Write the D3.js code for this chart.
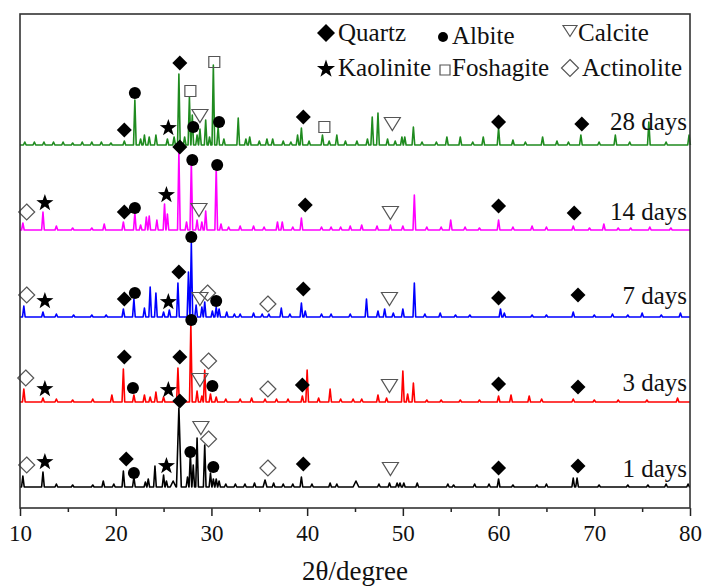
<!DOCTYPE html>
<html lang="en">
<head>
<meta charset="UTF-8">
<script src="https://cdn.jsdelivr.net/npm/d3@7"></script>
<title>XRD patterns</title>
<style>
  body { margin: 0; background: #fff; }
  text { font-family: "Liberation Serif", "Times New Roman", serif; fill: #111; }
</style>
</head>
<body>
<svg id="chart" width="702" height="588"></svg>
<script>
// peaks: [2theta, height above baseline (a.u.), half width]
var peaks1d = [[10.3,11],[12.4,15],[13.8,3],[15.5,2],[17.6,2],[18.7,6],[19.8,3],[20.8,16],[21.9,10],[23.1,5],[23.4,8],[24.1,21],[25.0,12],[25.3,6],[26.0,6,0.3],[26.6,79,0.25],[27.5,10],[27.8,34],[28.1,22],[28.5,49],[29.3,42],[29.9,14],[30.2,8],[30.5,8],[30.8,6],[31.5,3],[32.5,3],[33.5,3],[34.5,4],[35.6,7,0.2],[36.5,4],[37.5,3],[38.5,3],[39.4,10],[40.5,3],[42.4,4],[43.1,3],[45.1,6,0.3],[47.5,3],[48.6,4],[49.4,4],[49.7,4],[50.1,4],[51.5,4],[54.7,3],[55.3,2],[57.5,3],[59.0,3],[60.0,8],[61.5,2],[64.0,2],[65.0,3],[67.8,9],[68.2,9],[70.5,2],[73.5,2],[75.6,2],[77.5,3],[79.8,3]];
var peaks3d = [[10.4,13],[12.4,4],[13.8,3],[15.5,2],[17.6,3],[19.6,7],[20.8,33],[21.9,7],[23.0,7],[23.6,5],[24.2,10],[25.0,5],[26.5,34],[27.85,79],[28.5,11],[29.0,6],[29.3,32],[29.9,8],[30.5,5],[31.5,3],[33.0,3],[34.2,4],[35.6,3],[36.8,3],[38.0,3],[39.5,6],[40.0,32],[41.2,4],[42.4,13],[43.5,3],[44.8,3],[45.7,3],[47.4,7],[48.3,4],[50.0,31],[50.5,8],[51.1,19],[52.5,2],[54.0,2],[56.0,2],[58.0,2],[60.0,6],[61.3,7],[63.2,6],[64.5,3],[67.8,3],[70.0,2],[72.5,2],[75.5,2],[78.7,4]];
var peaks7d = [[10.4,11],[12.4,5],[13.8,3],[15.6,2],[17.5,2],[19.0,2],[20.8,8],[21.9,18],[23.0,9],[23.6,30],[24.2,24],[25.0,5],[25.6,7],[26.5,34],[27.6,45],[27.9,74],[28.4,12],[29.0,10],[29.3,15],[30.1,6],[30.5,10],[30.8,8],[31.6,5],[32.4,3],[33.0,3],[34.4,4],[35.3,3],[36.0,3],[37.3,9],[38.2,3],[39.4,14],[39.8,6],[41.5,3],[42.5,3],[44.5,3],[46.2,18],[47.4,6],[48.1,8],[49.0,4],[50.0,8],[51.2,34],[52.3,3],[53.9,4],[55.5,2],[57.0,2],[60.2,8],[60.6,4],[63.5,2],[65.0,2],[67.8,5],[70.0,2],[71.9,3],[73.5,2],[75.0,4],[77.0,2],[79.0,4]];
var peaks14d = [[10.3,7],[12.4,18],[13.8,4],[15.5,2],[17.5,2],[18.8,6],[20.8,8],[22.0,17],[22.6,5],[23.2,13],[23.5,14],[24.3,10],[25.1,26],[25.4,16],[26.6,78],[27.4,8],[27.9,68],[28.5,10],[29.0,8],[29.4,19],[30.5,62],[31.0,6],[31.8,3],[33.0,4],[34.4,4],[35.5,3],[36.9,8],[37.4,8],[38.5,3],[39.4,12],[41.5,3],[42.5,3],[43.5,3],[44.5,4],[45.7,5],[47.3,4],[48.7,5],[50.0,4],[51.2,35],[52.5,3],[54.0,3],[55.0,10],[56.5,3],[58.0,2],[60.0,10],[61.5,3],[63.5,4],[65.0,3],[67.8,4],[69.5,2],[71.0,6],[72.5,2],[73.8,2],[75.8,3],[78.0,2]];
var peaks28d = [[10.5,3],[11.5,3],[12.5,3],[13.5,3],[14.5,3],[15.5,2],[16.5,3],[17.5,3],[18.5,3],[19.5,2],[20.9,4],[22.0,45],[22.6,6],[23.0,10],[23.5,8],[24.2,10],[25.4,6],[26.1,8],[26.6,71],[27.2,8],[27.7,48],[28.0,30],[28.5,10],[28.8,16],[29.4,25],[29.8,8],[30.2,80],[30.7,18],[31.3,6],[32.8,27],[33.6,6],[34.0,8],[35.0,4],[35.8,6],[36.4,6],[37.5,4],[38.3,3],[39.0,10],[39.4,17],[40.2,4],[41.6,10],[42.3,4],[43.1,10],[44.0,4],[45.2,4],[46.3,6],[46.8,28],[47.4,32],[48.4,6],[49.2,4],[49.9,8],[50.2,8],[51.1,18],[52.0,3],[53.5,3],[54.6,8],[56.0,8],[57.3,3],[58.4,8],[60.0,17],[61.5,5],[62.8,3],[64.6,8],[66.1,4],[67.3,3],[68.6,10],[70.5,3],[72.2,10],[73.7,3],[75.7,23],[77.5,3],[79.9,10]];

// phase markers: [phase, 2theta, height above baseline]
var marks1d = [["act",10.7,22],["kao",12.6,25],["qtz",21.1,28],["alb",21.9,14],["kao",25.3,21],["qtz",26.7,86],["alb",27.8,35],["cal",28.9,59],["act",29.7,48],["alb",30.2,20],["act",35.9,19],["qtz",39.6,23],["cal",48.7,18],["qtz",60.0,19],["qtz",68.3,21]];
var marks3d = [["act",10.6,24],["kao",12.6,13],["qtz",20.9,45],["alb",21.8,14],["kao",25.5,12],["qtz",26.7,45],["alb",27.9,82],["cal",28.8,22],["act",29.7,41],["alb",30.1,16],["act",35.9,13],["qtz",39.5,17],["cal",48.6,16],["qtz",60.0,18],["qtz",68.3,15]];
var marks7d = [["act",10.7,22],["kao",12.6,16],["qtz",20.9,18],["alb",22.0,24],["kao",25.5,15],["qtz",26.6,45],["alb",27.9,80],["cal",28.8,18],["act",29.6,24],["alb",30.5,16],["act",35.9,13],["qtz",39.6,28],["cal",48.6,18],["qtz",60.0,19],["qtz",68.3,22]];
var marks14d = [["act",10.7,18],["kao",12.6,27],["qtz",20.9,18],["alb",22.0,22],["kao",25.3,35],["qtz",26.7,83],["alb",28.0,70],["cal",28.7,20],["alb",30.6,65],["qtz",39.8,25],["cal",48.7,17],["qtz",60.0,24],["qtz",67.9,17]];
var marks28d = [["qtz",20.9,15],["alb",22.0,52],["kao",25.5,17],["qtz",26.7,82],["fos",27.8,54],["alb",28.1,18],["cal",28.8,29],["fos",30.3,83],["alb",30.8,23],["qtz",39.6,28],["fos",41.8,18],["cal",48.9,21],["qtz",60.0,23],["qtz",68.7,21]];

var seriesNames = ["1 days", "3 days", "7 days", "14 days", "28 days"];
var seriesColors = ["#000000", "#ff0000", "#0000ff", "#ff00ff", "#1f8b1f"];
var seriesOffsets = [21, 106, 191, 278, 363];
var seriesPeaks = [peaks1d, peaks3d, peaks7d, peaks14d, peaks28d];
var seriesMarks = [marks1d, marks3d, marks7d, marks14d, marks28d];

var legendNames = [["qtz","Quartz"],["alb","Albite"],["cal","Calcite"],["kao","Kaolinite"],["fos","Foshagite"],["act","Actinolite"]];
var xTicks = [10, 20, 30, 40, 50, 60, 70, 80];
var xMinorTicks = [15, 25, 35, 45, 55, 65, 75];

var svg = d3.select("#chart");
var plotL = 20, plotR = 690, plotT = 14, plotB = 508;

var x = d3.scaleLinear().domain([10, 80]).range([plotL, plotR]);
var y = d3.scaleLinear().domain([0, 494]).range([plotB, plotT]);

// build the trace from the peak vertices
function profile(peaks) {
  var xs = [10, 80];
  peaks.forEach(function(p) {
    var w = p[2] || 0.14;
    xs.push(p[0] - w, p[0], p[0] + w);
  });
  xs.sort(function(a, b) { return a - b; });
  return xs.map(function(t) {
    var v = 0;
    peaks.forEach(function(p) {
      var w = p[2] || 0.14;
      var d = Math.abs(t - p[0]);
      if (d < w) v = Math.max(v, p[1] * (1 - d / w));
    });
    return [t, v];
  });
}

var line = d3.line().x(function(d) { return x(d[0]); });

seriesPeaks.forEach(function(pk, i) {
  var off = seriesOffsets[i];
  svg.append("path")
    .datum(profile(pk))
    .attr("fill", "none")
    .attr("stroke", seriesColors[i])
    .attr("stroke-width", 1.6)
    .attr("stroke-linejoin", "round")
    .attr("d", line.y(function(d) { return y(off + d[1]); }));
});

// marker shapes
function diamondPath(r) { return "M0," + (-r) + "L" + r + ",0L0," + r + "L" + (-r) + ",0Z"; }
function starPath(R) {
  var s = "", r = R * 0.4;
  for (var k = 0; k < 10; k++) {
    var a = -Math.PI / 2 + k * Math.PI / 5, rr = k % 2 ? r : R;
    s += (k ? "L" : "M") + (rr * Math.cos(a)).toFixed(2) + "," + (rr * Math.sin(a)).toFixed(2);
  }
  return s + "Z";
}
function triPath(w, h) { return "M" + (-w / 2) + "," + (-h / 2) + "L" + (w / 2) + "," + (-h / 2) + "L0," + (h / 2) + "Z"; }
function squarePath(s) { return "M" + (-s / 2) + "," + (-s / 2) + "h" + s + "v" + s + "h" + (-s) + "Z"; }

function drawMark(g, phase, px, py, legend) {
  var tr = "translate(" + px + "," + py + ")";
  if (phase === "qtz") {
    g.append("path").attr("d", diamondPath(legend ? 9 : 7.5)).attr("fill", "#000").attr("transform", tr);
  } else if (phase === "alb") {
    g.append("circle").attr("cx", px).attr("cy", py).attr("r", legend ? 5 : 6).attr("fill", "#000");
  } else if (phase === "kao") {
    g.append("path").attr("d", starPath(legend ? 9.5 : 9)).attr("fill", "#000").attr("transform", tr);
  } else if (phase === "cal") {
    g.append("path").attr("d", legend ? triPath(14, 11) : triPath(16, 13)).attr("fill", "none")
      .attr("stroke", "#555").attr("stroke-width", 1.2).attr("transform", tr);
  } else if (phase === "fos") {
    g.append("path").attr("d", squarePath(legend ? 10 : 11)).attr("fill", "none")
      .attr("stroke", "#555").attr("stroke-width", 1.2).attr("transform", tr);
  } else if (phase === "act") {
    g.append("path").attr("d", diamondPath(legend ? 8.5 : 8)).attr("fill", "none")
      .attr("stroke", "#555").attr("stroke-width", 1.2).attr("transform", tr);
  }
}

var markG = svg.append("g");
seriesMarks.forEach(function(ms, i) {
  ms.forEach(function(m) {
    drawMark(markG, m[0], x(m[1]), y(seriesOffsets[i] + m[2]), false);
  });
});

// series labels
var labelY = [477, 391, 304, 220, 130];
seriesNames.forEach(function(n, i) {
  svg.append("text").attr("x", 687).attr("y", labelY[i])
    .attr("text-anchor", "end").attr("font-size", 25).text(n);
});

// legend
var legPos = [[326, 33, 338, 41], [443, 37, 452, 44], [570, 31, 578, 41],
              [326, 69, 338, 76], [445, 70, 452, 76], [570, 68, 582, 76]];
var legG = svg.append("g");
legendNames.forEach(function(d, i) {
  var p = legPos[i];
  drawMark(legG, d[0], p[0], p[1], true);
  legG.append("text").attr("x", p[2]).attr("y", p[3]).attr("font-size", 25).text(d[1]);
});

// axes
var xAxis = svg.append("g").attr("transform", "translate(0," + plotB + ")")
  .call(d3.axisBottom(x).tickValues(xTicks).tickSize(8).tickSizeOuter(0));
xAxis.select(".domain").remove();
xAxis.selectAll("line").attr("stroke", "#222").attr("stroke-width", 1.5);
xAxis.selectAll("text").attr("font-size", 23).attr("dy", "0.95em")
  .style("font-family", "'Liberation Serif', serif").attr("fill", "#222");

var xMinor = svg.append("g").attr("transform", "translate(0," + plotB + ")")
  .call(d3.axisBottom(x).tickValues(xMinorTicks).tickSize(4).tickFormat(""));
xMinor.select(".domain").remove();
xMinor.selectAll("line").attr("stroke", "#222").attr("stroke-width", 1.5);

svg.append("rect").attr("x", plotL).attr("y", plotT)
  .attr("width", plotR - plotL).attr("height", plotB - plotT)
  .attr("fill", "none").attr("stroke", "#333").attr("stroke-width", 1.6);

svg.append("text").attr("x", (plotL + plotR) / 2).attr("y", 580)
  .attr("text-anchor", "middle").attr("font-size", 27).text("2θ/degree");
</script>
</body>
</html>
